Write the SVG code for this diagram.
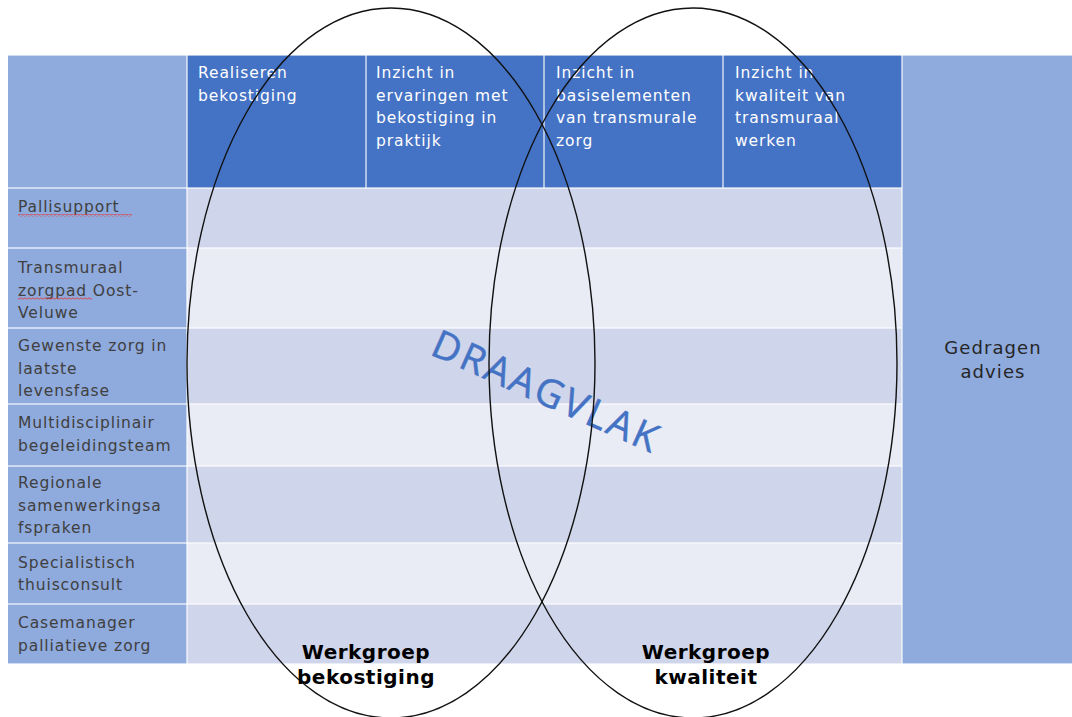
<svg xmlns="http://www.w3.org/2000/svg" width="1072" height="717" viewBox="0 0 1072 717">
  <defs>
    <style>
      .side { fill: #8FAADC; }
      .head { fill: #4472C4; }
      .dark { fill: #CFD5EA; }
      .light { fill: #E9EBF5; }
      .grid { stroke: #FFFFFF; stroke-width: 1.5; stroke-opacity: 0.75; }
      .htxt { font-family: "DejaVu Sans", sans-serif; font-size: 15.5px; letter-spacing: 0.9px; fill: #FFFFFF; }
      .rtxt { font-family: "DejaVu Sans", sans-serif; font-size: 15.5px; letter-spacing: 0.9px; fill: #404040; }
      .adv { font-family: "DejaVu Sans", sans-serif; font-size: 18px; letter-spacing: 1.1px; fill: #262626; text-anchor: middle; }
      .wg { font-family: "DejaVu Sans", sans-serif; font-weight: bold; font-size: 20px; letter-spacing: 0.5px; fill: #000000; text-anchor: middle; }
      .ring { fill: none; stroke: #111111; stroke-width: 1.4; }
      .mark { font-family: "Open Sans", sans-serif; font-size: 39px; letter-spacing: 2.6px; fill: #4472C4; stroke: #4472C4; stroke-width: 0.5; text-anchor: middle; }
    </style>
    <pattern id="squiggle" width="4" height="3" patternUnits="userSpaceOnUse">
      <path d="M0,1.5 Q1,0 2,1.5 T4,1.5" fill="none" stroke="#E03C3C" stroke-width="0.9"/>
    </pattern>
  </defs>

  <!-- table background -->
  <g id="table">
    <rect class="side" x="8" y="55" width="179" height="609"/>
    <rect class="head" x="187" y="55" width="715" height="133"/>
    <rect class="dark" x="187" y="188" width="715" height="60"/>
    <rect class="light" x="187" y="248" width="715" height="80"/>
    <rect class="dark" x="187" y="328" width="715" height="76"/>
    <rect class="light" x="187" y="404" width="715" height="62"/>
    <rect class="dark" x="187" y="466" width="715" height="77"/>
    <rect class="light" x="187" y="543" width="715" height="61"/>
    <rect class="dark" x="187" y="604" width="715" height="60"/>
    <rect class="side" x="902" y="55" width="170" height="609"/>
    <g class="grid">
      <line x1="187" y1="55" x2="187" y2="664"/>
      <line x1="366" y1="55" x2="366" y2="188"/>
      <line x1="544" y1="55" x2="544" y2="188"/>
      <line x1="723" y1="55" x2="723" y2="188"/>
      <line x1="902" y1="55" x2="902" y2="664"/>
      <line x1="8" y1="188" x2="902" y2="188"/>
      <line x1="8" y1="248" x2="902" y2="248"/>
      <line x1="8" y1="328" x2="902" y2="328"/>
      <line x1="8" y1="404" x2="902" y2="404"/>
      <line x1="8" y1="466" x2="902" y2="466"/>
      <line x1="8" y1="543" x2="902" y2="543"/>
      <line x1="8" y1="604" x2="902" y2="604"/>
      <line x1="8" y1="664" x2="1072" y2="664"/>
      <line x1="8" y1="55" x2="1072" y2="55"/>
    </g>
  </g>

  <!-- column headers -->
  <g id="col-realiseren">
    <text class="htxt" x="198" y="78">Realiseren</text>
    <text class="htxt" x="198" y="100.5">bekostiging</text>
  </g>
  <g id="col-ervaringen">
    <text class="htxt" x="376" y="78">Inzicht in</text>
    <text class="htxt" x="376" y="100.5">ervaringen met</text>
    <text class="htxt" x="376" y="123">bekostiging in</text>
    <text class="htxt" x="376" y="145.5">praktijk</text>
  </g>
  <g id="col-basiselementen">
    <text class="htxt" x="556" y="78">Inzicht in</text>
    <text class="htxt" x="556" y="100.5">basiselementen</text>
    <text class="htxt" x="556" y="123">van transmurale</text>
    <text class="htxt" x="556" y="145.5">zorg</text>
  </g>
  <g id="col-kwaliteit">
    <text class="htxt" x="735" y="78">Inzicht in</text>
    <text class="htxt" x="735" y="100.5">kwaliteit van</text>
    <text class="htxt" x="735" y="123">transmuraal</text>
    <text class="htxt" x="735" y="145.5">werken</text>
  </g>

  <!-- row labels -->
  <g id="row-pallisupport">
    <text class="rtxt" x="18" y="212">Pallisupport</text>
    <rect x="18" y="214" width="114" height="3" fill="url(#squiggle)"/>
  </g>
  <g id="row-zorgpad">
    <text class="rtxt" x="18" y="273">Transmuraal</text>
    <text class="rtxt" x="18" y="295.5">zorgpad Oost-</text>
    <rect x="18" y="297" width="74" height="3" fill="url(#squiggle)"/>
    <text class="rtxt" x="18" y="318">Veluwe</text>
  </g>
  <g id="row-gewenste-zorg">
    <text class="rtxt" x="18" y="351">Gewenste zorg in</text>
    <text class="rtxt" x="18" y="373.5">laatste</text>
    <text class="rtxt" x="18" y="396">levensfase</text>
  </g>
  <g id="row-multidisciplinair">
    <text class="rtxt" x="18" y="428">Multidisciplinair</text>
    <text class="rtxt" x="18" y="450.5">begeleidingsteam</text>
  </g>
  <g id="row-regionale">
    <text class="rtxt" x="18" y="488">Regionale</text>
    <text class="rtxt" x="18" y="510.5">samenwerkingsa</text>
    <text class="rtxt" x="18" y="533">fspraken</text>
  </g>
  <g id="row-thuisconsult">
    <text class="rtxt" x="18" y="567.5">Specialistisch</text>
    <text class="rtxt" x="18" y="590">thuisconsult</text>
  </g>
  <g id="row-casemanager">
    <text class="rtxt" x="18" y="628">Casemanager</text>
    <text class="rtxt" x="18" y="650.5">palliatieve zorg</text>
  </g>

  <!-- outcome column -->
  <g id="advies">
    <text class="adv" x="993" y="354">Gedragen</text>
    <text class="adv" x="993" y="378">advies</text>
  </g>

  <!-- support label across the overlap -->
  <g id="draagvlak">
    <text class="mark" x="541" y="404" transform="rotate(24 541 404)">DRAAGVLAK</text>
  </g>

  <!-- working group circles -->
  <g id="connectors">
    <ellipse id="werkgroep-bekostiging-ring" class="ring" cx="391" cy="363" rx="204" ry="355"/>
    <ellipse id="werkgroep-kwaliteit-ring" class="ring" cx="693" cy="363" rx="204" ry="355"/>
  </g>

  <g id="werkgroep-bekostiging">
    <text class="wg" x="366" y="659">Werkgroep</text>
    <text class="wg" x="366" y="684">bekostiging</text>
  </g>
  <g id="werkgroep-kwaliteit">
    <text class="wg" x="706" y="659">Werkgroep</text>
    <text class="wg" x="706" y="684">kwaliteit</text>
  </g>
</svg>
